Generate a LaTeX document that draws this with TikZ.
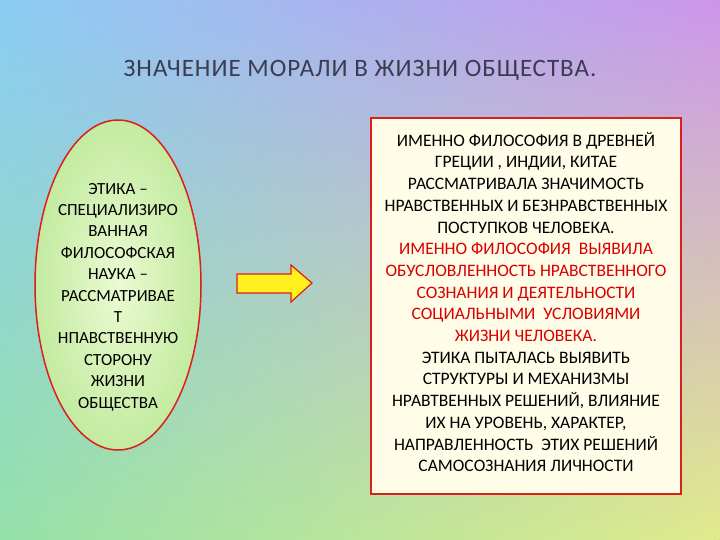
\documentclass[tikz,border=0pt]{standalone}
\usepackage{fontspec}
\setmainfont{Carlito}
\usetikzlibrary{shapes.geometric,fadings}
\begin{document}
\begin{tikzpicture}[x=1pt,y=-1pt,
  txt/.style={align=center,font=\fontsize{17.5}{21.7}\selectfont,inner sep=0pt}]
\useasboundingbox (0,0) rectangle (720,540);
\shade[left color={rgb,255:red,140;green,205;blue,245},right color={rgb,255:red,205;green,150;blue,235}] (0,0) rectangle (720,540);
\shade[left color={rgb,255:red,150;green,225;blue,170},right color={rgb,255:red,225;green,235;blue,140},path fading=north] (0,0) rectangle (720,540);
\node[font=\fontsize{25}{28}\selectfont\addfontfeature{LetterSpace=4},text={rgb,255:red,60;green,60;blue,80}] (title) at (360,70) {ЗНАЧЕНИЕ МОРАЛИ В ЖИЗНИ ОБЩЕСТВА.};
\node[ellipse,draw={rgb,255:red,220;green,30;blue,30},line width=1.5pt,inner sep=0pt,minimum width=166,minimum height=330,inner color={rgb,255:red,235;green,250;blue,210},outer color={rgb,255:red,195;green,235;blue,160}] (ell) at (118,285) {};
\node[txt,font=\fontsize{17}{21.4}\selectfont] (etext) at (118,297) {ЭТИКА –\\СПЕЦИАЛИЗИРО\\ВАННАЯ\\ФИЛОСОФСКАЯ\\НАУКА –\\РАССМАТРИВАЕ\\Т\\НПАВСТВЕННУЮ\\СТОРОНУ\\ЖИЗНИ\\ОБЩЕСТВА};
\draw[draw={rgb,255:red,220;green,30;blue,30},line width=1.2pt,fill={rgb,255:red,255;green,240;blue,30},line join=miter]
  (237,274) -- (291,274) -- (291,265) -- (312,283) -- (291,302) -- (291,293) -- (237,293) -- cycle;
\node[draw={rgb,255:red,220;green,30;blue,30},line width=1.5pt,fill={rgb,255:red,255;green,252;blue,232},minimum width=310,minimum height=376,inner sep=0pt] (box) at (526,306) {};
\node[txt] (btext) at (526,302) {ИМЕННО ФИЛОСОФИЯ В ДРЕВНЕЙ\\ГРЕЦИИ , ИНДИИ, КИТАЕ\\РАССМАТРИВАЛА ЗНАЧИМОСТЬ\\НРАВСТВЕННЫХ И БЕЗНРАВСТВЕННЫХ\\ПОСТУПКОВ ЧЕЛОВЕКА.\\
\textcolor{red!85!black}{ИМЕННО ФИЛОСОФИЯ ~ВЫЯВИЛА}\\\textcolor{red!85!black}{ОБУСЛОВЛЕННОСТЬ НРАВСТВЕННОГО}\\\textcolor{red!85!black}{СОЗНАНИЯ И ДЕЯТЕЛЬНОСТИ}\\\textcolor{red!85!black}{СОЦИАЛЬНЫМИ ~УСЛОВИЯМИ}\\\textcolor{red!85!black}{ЖИЗНИ ЧЕЛОВЕКА.}\\
ЭТИКА ПЫТАЛАСЬ ВЫЯВИТЬ\\СТРУКТУРЫ И МЕХАНИЗМЫ\\НРАВТВЕННЫХ РЕШЕНИЙ, ВЛИЯНИЕ\\ИХ НА УРОВЕНЬ, ХАРАКТЕР,\\НАПРАВЛЕННОСТЬ ~ЭТИХ РЕШЕНИЙ\\САМОСОЗНАНИЯ ЛИЧНОСТИ};
\end{tikzpicture}
\end{document}
